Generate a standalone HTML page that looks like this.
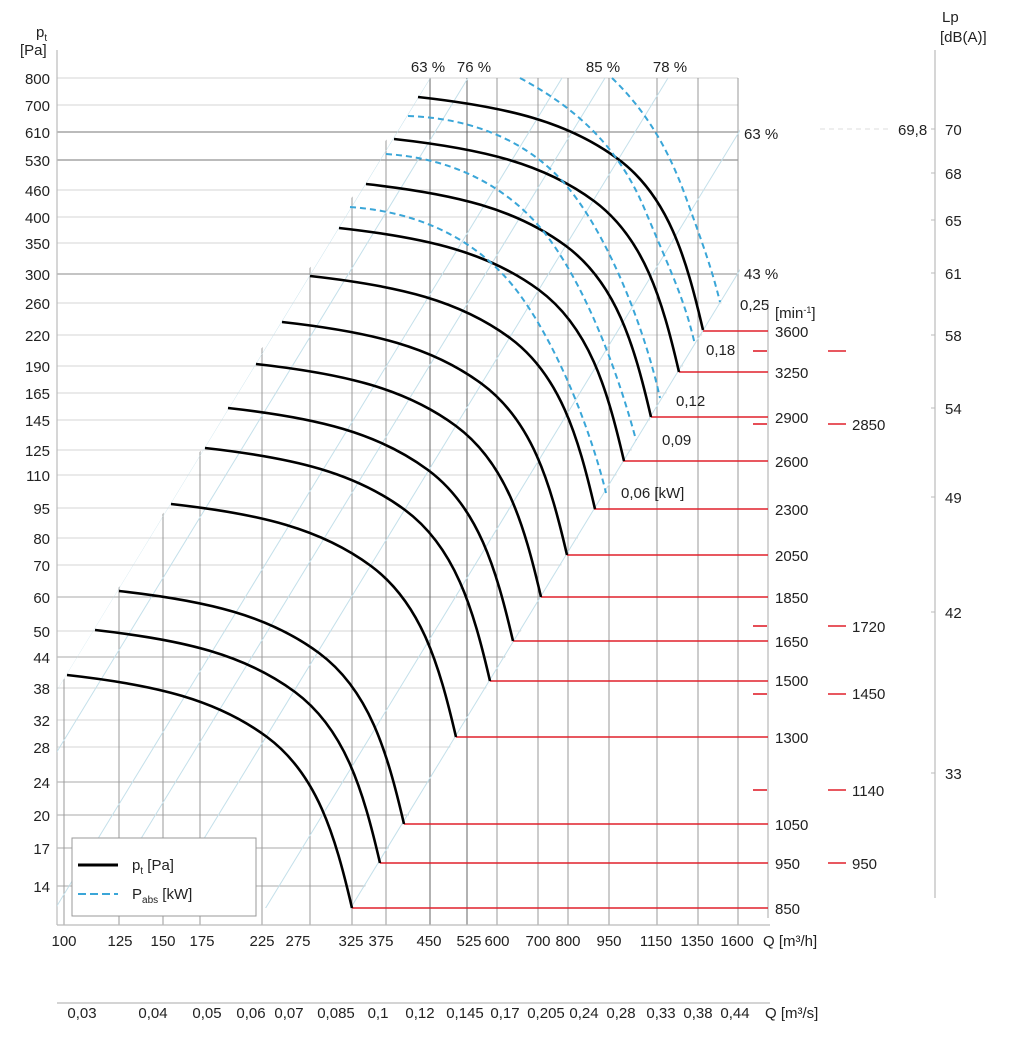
<!DOCTYPE html>
<html><head><meta charset="utf-8"><style>
html,body{margin:0;padding:0;background:#fff;}
svg{display:block;font-family:"Liberation Sans",sans-serif;}
</style></head><body>
<svg width="1018" height="1038" viewBox="0 0 1018 1038" xmlns="http://www.w3.org/2000/svg">
<defs>
<clipPath id="reg"><polygon points="57,50 740,50 740,273 352,908 57,908"/></clipPath>
<clipPath id="vreg"><polygon points="434,60 800,60 800,930 -86,930"/></clipPath>
<clipPath id="dreg"><polygon points="430,78 740,78 740,273 352,908 57,908 57,690"/></clipPath>
</defs>
<g clip-path="url(#reg)" stroke="#d4d4d4" stroke-width="1">
<line x1="57" y1="78" x2="738" y2="78"/><line x1="57" y1="105" x2="738" y2="105"/>
<line x1="57" y1="132" x2="738" y2="132" stroke="#777"/><line x1="57" y1="160" x2="738" y2="160" stroke="#777"/>
<line x1="57" y1="190" x2="738" y2="190"/><line x1="57" y1="217" x2="738" y2="217"/>
<line x1="57" y1="243" x2="738" y2="243"/><line x1="57" y1="274" x2="738" y2="274" stroke="#888"/>
<line x1="57" y1="303" x2="738" y2="303"/><line x1="57" y1="335" x2="738" y2="335"/>
<line x1="57" y1="366" x2="738" y2="366"/><line x1="57" y1="393" x2="738" y2="393"/>
<line x1="57" y1="420" x2="738" y2="420"/><line x1="57" y1="450" x2="738" y2="450"/>
<line x1="57" y1="475" x2="738" y2="475"/><line x1="57" y1="508" x2="738" y2="508"/>
<line x1="57" y1="538" x2="738" y2="538"/><line x1="57" y1="565" x2="738" y2="565"/>
<line x1="57" y1="597" x2="738" y2="597" stroke="#aaa"/><line x1="57" y1="631" x2="738" y2="631"/>
<line x1="57" y1="657" x2="738" y2="657" stroke="#aaa"/><line x1="57" y1="688" x2="738" y2="688"/>
<line x1="57" y1="720" x2="738" y2="720"/><line x1="57" y1="747" x2="738" y2="747"/>
<line x1="57" y1="782" x2="738" y2="782" stroke="#aaa"/><line x1="57" y1="815" x2="738" y2="815" stroke="#aaa"/>
<line x1="57" y1="848" x2="738" y2="848" stroke="#aaa"/><line x1="57" y1="886" x2="738" y2="886" stroke="#aaa"/>
</g>
<g stroke="#999" stroke-width="1" clip-path="url(#vreg)">
<line x1="64" y1="78" x2="64" y2="925"/><line x1="119" y1="78" x2="119" y2="925"/>
<line x1="163" y1="78" x2="163" y2="925"/><line x1="200" y1="78" x2="200" y2="925"/>
<line x1="262" y1="78" x2="262" y2="925"/><line x1="310" y1="78" x2="310" y2="925"/>
<line x1="352" y1="78" x2="352" y2="925"/><line x1="386" y1="78" x2="386" y2="925"/>
<line x1="430" y1="78" x2="430" y2="925" stroke="#666"/><line x1="467" y1="78" x2="467" y2="925" stroke="#666"/>
<line x1="497" y1="78" x2="497" y2="925"/><line x1="538" y1="78" x2="538" y2="925"/>
<line x1="568" y1="78" x2="568" y2="925"/><line x1="609" y1="78" x2="609" y2="925"/>
<line x1="657" y1="78" x2="657" y2="925"/><line x1="698" y1="78" x2="698" y2="925"/>
<line x1="738" y1="78" x2="738" y2="925"/>
</g>
<line x1="768" y1="300" x2="768" y2="918" stroke="#aaa"/>
<g stroke="#bbb" stroke-width="1.2">
<line x1="57" y1="50" x2="57" y2="925"/>
<line x1="57" y1="925" x2="770" y2="925"/>
<line x1="57" y1="1003" x2="770" y2="1003"/>
<line x1="935" y1="50" x2="935" y2="898"/>
</g>
<g clip-path="url(#dreg)" stroke="#c4e0ea" stroke-width="1">
<line x1="430" y1="78" x2="-80" y2="914"/>
<line x1="468" y1="78" x2="-42" y2="914"/>
<line x1="562" y1="78" x2="52" y2="914"/>
<line x1="605" y1="78" x2="95" y2="914"/>
<line x1="668" y1="78" x2="158" y2="914"/>
<line x1="772" y1="78" x2="262" y2="914"/>
<line x1="857" y1="78" x2="347" y2="914"/>
</g>
<g stroke="#e0202c" stroke-width="1.6">
<line x1="703" y1="331" x2="768" y2="331"/><line x1="679" y1="372" x2="768" y2="372"/>
<line x1="651" y1="417" x2="768" y2="417"/><line x1="623" y1="461" x2="768" y2="461"/>
<line x1="594" y1="509" x2="768" y2="509"/><line x1="567" y1="555" x2="768" y2="555"/>
<line x1="541" y1="597" x2="768" y2="597"/><line x1="513" y1="641" x2="768" y2="641"/>
<line x1="490" y1="681" x2="768" y2="681"/><line x1="456" y1="737" x2="768" y2="737"/>
<line x1="404" y1="824" x2="768" y2="824"/><line x1="380" y1="863" x2="768" y2="863"/>
<line x1="352" y1="908" x2="768" y2="908"/>
<line x1="753" y1="351" x2="767" y2="351"/><line x1="828" y1="351" x2="846" y2="351"/>
<line x1="753" y1="424" x2="767" y2="424"/><line x1="828" y1="424" x2="846" y2="424"/>
<line x1="753" y1="626" x2="767" y2="626"/><line x1="828" y1="626" x2="846" y2="626"/>
<line x1="753" y1="694" x2="767" y2="694"/><line x1="828" y1="694" x2="846" y2="694"/>
<line x1="753" y1="790" x2="767" y2="790"/><line x1="828" y1="790" x2="846" y2="790"/>
<line x1="828" y1="863" x2="846" y2="863"/>
</g>
<line x1="820" y1="129" x2="892" y2="129" stroke="#ddd" stroke-dasharray="5,4"/>
<g fill="none" stroke="#000" stroke-width="2.6">
<path d="M0,0 C90,10 150,25 200,62 S268,160 285,233" transform="translate(418,97)"/>
<path d="M0,0 C90,10 150,25 200,62 S268,160 285,233" transform="translate(394,139)"/>
<path d="M0,0 C90,10 150,25 200,62 S268,160 285,233" transform="translate(366,184)"/>
<path d="M0,0 C90,10 150,25 200,62 S268,160 285,233" transform="translate(339,228)"/>
<path d="M0,0 C90,10 150,25 200,62 S268,160 285,233" transform="translate(310,276)"/>
<path d="M0,0 C90,10 150,25 200,62 S268,160 285,233" transform="translate(282,322)"/>
<path d="M0,0 C90,10 150,25 200,62 S268,160 285,233" transform="translate(256,364)"/>
<path d="M0,0 C90,10 150,25 200,62 S268,160 285,233" transform="translate(228,408)"/>
<path d="M0,0 C90,10 150,25 200,62 S268,160 285,233" transform="translate(205,448)"/>
<path d="M0,0 C90,10 150,25 200,62 S268,160 285,233" transform="translate(171,504)"/>
<path d="M0,0 C90,10 150,25 200,62 S268,160 285,233" transform="translate(119,591)"/>
<path d="M0,0 C90,10 150,25 200,62 S268,160 285,233" transform="translate(95,630)"/>
<path d="M0,0 C90,10 150,25 200,62 S268,160 285,233" transform="translate(67,675)"/>
</g>
<g fill="none" stroke="#3aa6d8" stroke-width="2" stroke-dasharray="6,4">
<path d="M612,78 C640,105 665,140 685,195 S712,270 720,302"/>
<path d="M520,78 C580,110 620,150 645,210 S685,300 695,345"/>
<path d="M408,116 C470,118 530,140 570,190 S645,330 660,398"/>
<path d="M386,154 C450,158 510,185 550,240 S620,380 636,440"/>
<path d="M350,207 C420,212 480,240 520,295 S592,435 606,493"/>
</g>
<g font-size="15" fill="#222">
<text x="36" y="37">p<tspan font-size="10" dy="4">t</tspan></text>
<text x="20" y="55">[Pa]</text>
<g text-anchor="end">
<text x="50" y="84">800</text><text x="50" y="111">700</text><text x="50" y="138">610</text>
<text x="50" y="166">530</text><text x="50" y="196">460</text><text x="50" y="223">400</text>
<text x="50" y="249">350</text><text x="50" y="280">300</text><text x="50" y="309">260</text>
<text x="50" y="341">220</text><text x="50" y="372">190</text><text x="50" y="399">165</text>
<text x="50" y="426">145</text><text x="50" y="456">125</text><text x="50" y="481">110</text>
<text x="50" y="514">95</text><text x="50" y="544">80</text><text x="50" y="571">70</text>
<text x="50" y="603">60</text><text x="50" y="637">50</text><text x="50" y="663">44</text>
<text x="50" y="694">38</text><text x="50" y="726">32</text><text x="50" y="753">28</text>
<text x="50" y="788">24</text><text x="50" y="821">20</text><text x="50" y="854">17</text>
<text x="50" y="892">14</text>
</g>
<g text-anchor="middle">
<text x="64" y="946">100</text><text x="120" y="946">125</text><text x="163" y="946">150</text>
<text x="202" y="946">175</text><text x="262" y="946">225</text><text x="298" y="946">275</text>
<text x="351" y="946">325</text><text x="381" y="946">375</text><text x="429" y="946">450</text>
<text x="469" y="946">525</text><text x="497" y="946">600</text><text x="538" y="946">700</text>
<text x="568" y="946">800</text><text x="609" y="946">950</text><text x="656" y="946">1150</text>
<text x="697" y="946">1350</text><text x="737" y="946">1600</text>
<text x="82" y="1018">0,03</text><text x="153" y="1018">0,04</text><text x="207" y="1018">0,05</text>
<text x="251" y="1018">0,06</text><text x="289" y="1018">0,07</text><text x="336" y="1018">0,085</text>
<text x="378" y="1018">0,1</text><text x="420" y="1018">0,12</text><text x="465" y="1018">0,145</text>
<text x="505" y="1018">0,17</text><text x="546" y="1018">0,205</text><text x="584" y="1018">0,24</text>
<text x="621" y="1018">0,28</text><text x="661" y="1018">0,33</text><text x="698" y="1018">0,38</text>
<text x="735" y="1018">0,44</text>
<text x="428" y="72">63 %</text><text x="474" y="72">76 %</text>
<text x="603" y="72">85 %</text><text x="670" y="72">78 %</text>
</g>
<text x="763" y="946">Q [m³/h]</text>
<text x="765" y="1018">Q [m³/s]</text>
<text x="744" y="139">63 %</text><text x="744" y="279">43 %</text>
<text x="740" y="310">0,25</text>
<text x="775" y="318">[min<tspan font-size="9" dy="-5">-1</tspan><tspan dy="5">]</tspan></text>
<text x="706" y="355">0,18</text><text x="676" y="406">0,12</text>
<text x="662" y="445">0,09</text><text x="621" y="498">0,06 [kW]</text>
<g>
<text x="775" y="337">3600</text><text x="775" y="378">3250</text><text x="775" y="423">2900</text>
<text x="775" y="467">2600</text><text x="775" y="515">2300</text><text x="775" y="561">2050</text>
<text x="775" y="603">1850</text><text x="775" y="647">1650</text><text x="775" y="686">1500</text>
<text x="775" y="743">1300</text><text x="775" y="830">1050</text><text x="775" y="869">950</text>
<text x="775" y="914">850</text>
<text x="852" y="430">2850</text><text x="852" y="632">1720</text><text x="852" y="699">1450</text>
<text x="852" y="796">1140</text><text x="852" y="869">950</text>
<text x="898" y="135">69,8</text>
</g>
<text x="942" y="22">Lp</text><text x="940" y="42">[dB(A)]</text>
<text x="945" y="135">70</text><text x="945" y="179">68</text><text x="945" y="226">65</text>
<text x="945" y="279">61</text><text x="945" y="341">58</text><text x="945" y="414">54</text>
<text x="945" y="503">49</text><text x="945" y="618">42</text><text x="945" y="779">33</text>
</g>
<g stroke="#bbb"><line x1="931" y1="129" x2="935" y2="129"/><line x1="931" y1="173" x2="935" y2="173"/>
<line x1="931" y1="220" x2="935" y2="220"/><line x1="931" y1="273" x2="935" y2="273"/>
<line x1="931" y1="335" x2="935" y2="335"/><line x1="931" y1="408" x2="935" y2="408"/>
<line x1="931" y1="497" x2="935" y2="497"/><line x1="931" y1="612" x2="935" y2="612"/>
<line x1="931" y1="773" x2="935" y2="773"/></g>
<rect x="72" y="838" width="184" height="78" fill="#fff" stroke="#999" stroke-width="1"/>
<line x1="78" y1="865" x2="118" y2="865" stroke="#000" stroke-width="3"/>
<line x1="78" y1="894" x2="118" y2="894" stroke="#3aa6d8" stroke-width="2" stroke-dasharray="8,4"/>
<text x="132" y="870" font-size="15" fill="#222">p<tspan font-size="10" dy="4">t</tspan><tspan dy="-4"> [Pa]</tspan></text>
<text x="132" y="899" font-size="15" fill="#222">P<tspan font-size="10" dy="4">abs</tspan><tspan dy="-4"> [kW]</tspan></text>
</svg>
</body></html>
